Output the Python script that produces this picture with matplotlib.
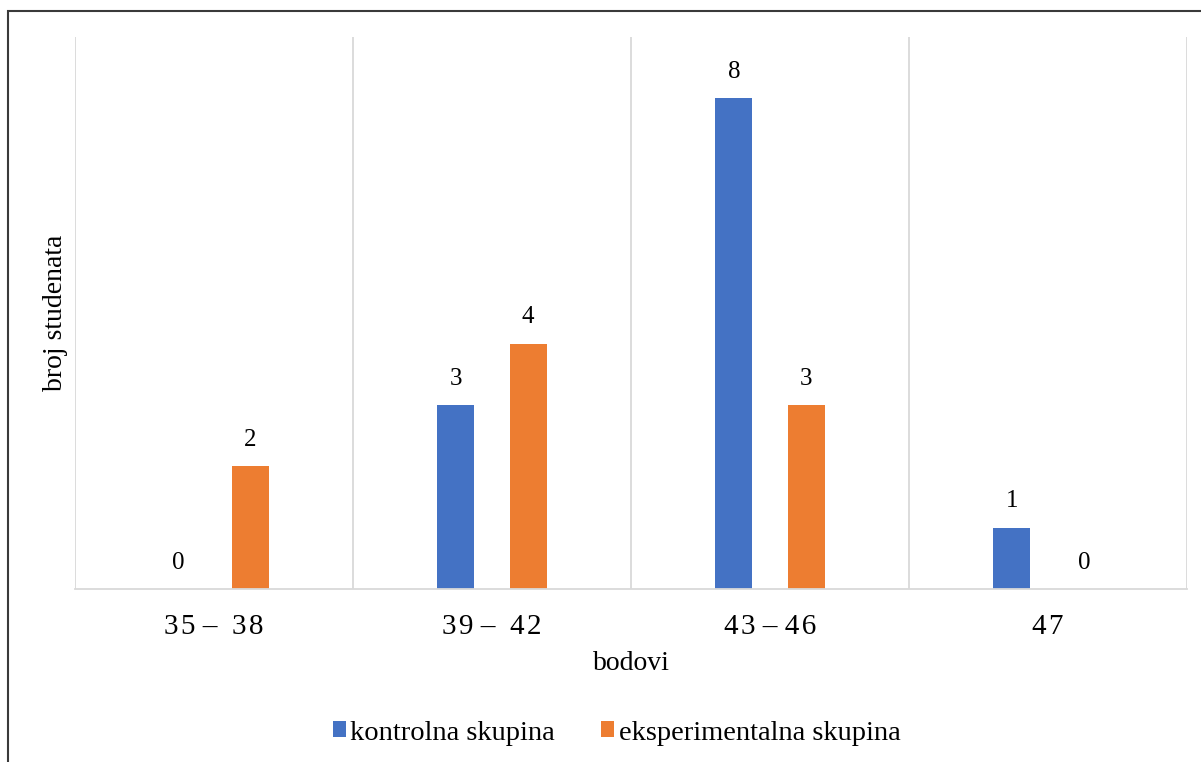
import matplotlib.pyplot as plt
import numpy as np
from matplotlib.patches import Rectangle

hs = '\u200a'  # hair space, the Word labels are letter-spaced
categories = ['3' + hs + '5 –  3' + hs + '8', '3' + hs + '9 –  4' + hs + '2',
              '4' + hs + '3 – 4' + hs + '6', '4' + hs + '7']
kontrolna = [0, 3, 8, 1]
eksperimentalna = [2, 4, 3, 0]

plt.rcParams['font.family'] = ['Liberation Serif', 'DejaVu Serif']

fig = plt.figure(figsize=(12.01, 7.62), dpi=100)
W, H = 1201, 762
ax = fig.add_axes([75 / W, 1 - 589 / H, (1187 - 75) / W, (589 - 37) / H])

x = np.arange(len(categories))
barWidth = 0.133
off = 0.13

b1 = ax.bar(x - off, kontrolna, barWidth, color='#4472c4', label='kontrolna skupina')
b2 = ax.bar(x + off, eksperimentalna, barWidth, color='#ed7d31', label='eksperimentalna skupina')

for bars in (b1, b2):
    for r in bars:
        ax.annotate(str(int(r.get_height())), (r.get_x() + r.get_width() / 2, r.get_height()),
                    xytext=(0, 11), textcoords='offset points', ha='center', va='bottom', fontsize=18)

ax.set_xlim(-0.5, 3.5)
ax.set_ylim(0, 9)
ax.set_yticks([])
ax.set_xticks(x)
ax.set_xticklabels(categories, fontsize=21)
ax.tick_params(axis='x', length=0, pad=18)

# vertical separators between categories
for s in np.arange(-0.5, 4.0, 1.0):
    ax.axvline(s, color='#d9d9d9', linewidth=1.3, zorder=0)

for sp in ['top', 'right', 'left']:
    ax.spines[sp].set_visible(False)
ax.spines['bottom'].set_color('#d9d9d9')
ax.spines['bottom'].set_linewidth(1.3)

ax.set_xlabel('bodovi', fontsize=20, va='center')
ax.xaxis.set_label_coords(0.5, (589 - 663) / 552)
ax.set_ylabel('broj studenata', fontsize=20, va='center')
ax.yaxis.set_label_coords((55 - 75) / 1112, 0.5)

fig.legend(loc='center', bbox_to_anchor=(0.5133, 1 - 733 / H), ncol=2, frameon=False,
           fontsize=20.5, handlelength=0.48, handleheight=0.48, handletextpad=0.15,
           columnspacing=1.6)

# outer chart border (top and left visible)
fig.patches.append(Rectangle((8 / W, -0.1), 1.2, 1 - 11 / H + 0.1, transform=fig.transFigure,
                             fill=False, edgecolor='#3a3a3a', linewidth=1.5))

plt.savefig('out.png', dpi=100)
